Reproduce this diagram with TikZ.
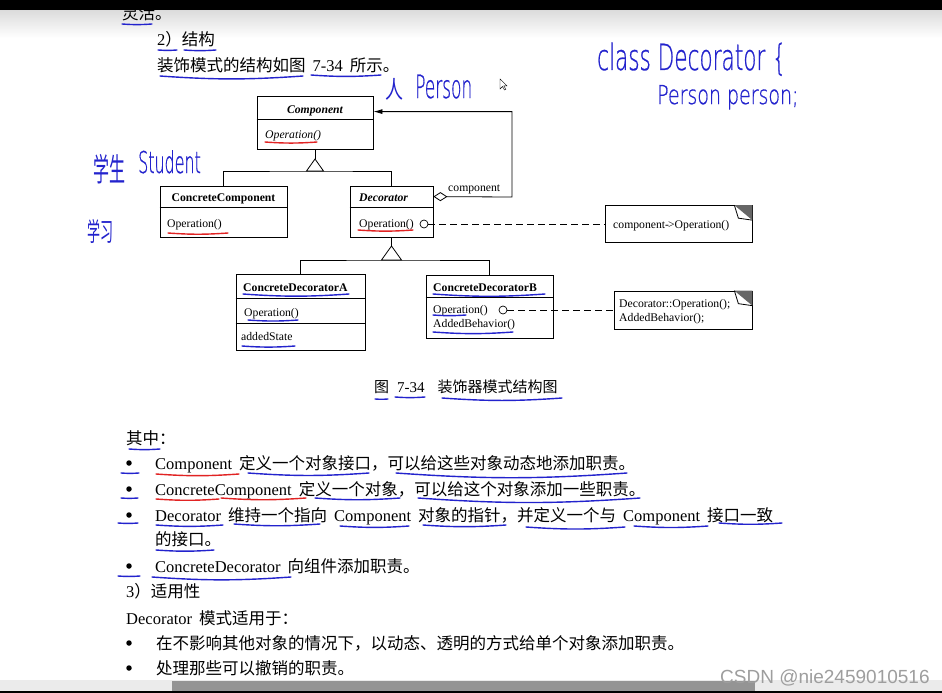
\documentclass[tikz,border=0pt]{standalone}
\usepackage{fontspec}
\usepackage{graphicx}
\setmainfont{Liberation Serif}
\newfontfamily\cjkfont{Noto Sans CJK SC}
\newfontfamily\handfont{DejaVuSans-ExtraLight.ttf}[FakeBold=0.8]
\newfontfamily\markfont{Liberation Sans}
\usetikzlibrary{arrows.meta,calc}
\definecolor{inkblue}{RGB}{35,35,205}
\definecolor{inkred}{RGB}{225,35,35}
\newcommand{\cjk}[1]{{\cjkfont #1}}
\newcommand{\zsp}{\hspace{7pt}}
\newcommand{\hand}[3]{{\fontsize{#1}{#1}\selectfont\scalebox{#2}[1]{#3}}}
\newcommand{\inkul}[4][blueline]{\draw[#1] (#2,#4) to[bend right=4] (#3,#4);}
\tikzset{
  page/.style={anchor=base west, inner sep=0pt, font=\fontsize{16.5}{20}\selectfont},
  uml/.style={anchor=base west, inner sep=0pt, font=\fontsize{11.7}{14}\selectfont},
  umlbox/.style={draw, line width=0.8pt, inner sep=0pt},
  umlline/.style={line width=0.8pt},
  notebox/.style={draw, line width=0.7pt, inner sep=0pt},
  lolly/.style={circle, draw, line width=0.7pt, inner sep=0pt, minimum size=8pt},
  dashlink/.style={line width=0.8pt, dash pattern=on 7pt off 4pt},
  bulletdot/.style={circle, fill=black, inner sep=0pt, minimum size=5.5pt},
  blueline/.style={inkblue, line width=1.4pt, line cap=round},
  redline/.style={inkred, line width=1.4pt, line cap=round},
  ink/.style={inkblue, anchor=base west, inner sep=0pt, font=\handfont},
}
\begin{document}
\begin{tikzpicture}[x=1pt,y=-1pt]
\useasboundingbox (0,0) rectangle (942,693);
\fill[white] (0,0) rectangle (942,693);
\shade[top color=black!14, bottom color=white] (0,10) rectangle (942,38); % shadow
\node[page] (t0) at (122,20) {\cjk{灵活。}};
\fill[black] (0,0) rectangle (942,10); % top bar
\node[page] (t1) at (157,46) {2\cjk{）结构}};
\node[page] (t2) at (157,71) {\cjk{装饰模式的结构如图}\zsp 7-34\zsp\cjk{所示。}};
\draw[fill=white, line width=0.4pt] (500,79) -- (500,89) -- (502.5,86.5) -- (504.5,90) -- (505.8,89.3) -- (503.8,85.8) -- (507,85.8) -- cycle; % cursor

% Component
\node[umlbox, minimum width=116pt, minimum height=53pt] (comp) at (315,122.5) {};
\draw[umlline] ([yshift=-24pt]comp.north west) -- ([yshift=-24pt]comp.north east);
\node[uml, anchor=base] (compname) at (315,113) {\bfseries\itshape Component};
\node[uml] (compop) at (265,138.5) {\itshape Operation()};
% ConcreteComponent
\node[umlbox, minimum width=127pt, minimum height=51pt] (cc) at (223.5,211.5) {};
\draw[umlline] ([yshift=-22pt]cc.north west) -- ([yshift=-22pt]cc.north east);
\node[uml, anchor=base] (ccname) at (223.5,201) {\bfseries ConcreteComponent};
\node[uml] (ccop) at (167,227) {Operation()};
% Decorator
\node[umlbox, minimum width=83pt, minimum height=51pt] (deco) at (391.5,211.5) {};
\draw[umlline] ([yshift=-22pt]deco.north west) -- ([yshift=-22pt]deco.north east);
\node[uml] (deconame) at (359,201) {\bfseries\itshape Decorator};
\node[uml] (decoop) at (359,227) {Operation()};
\node[lolly] (dotA) at (424,224) {};
% ConcreteDecoratorA
\node[umlbox, minimum width=129pt, minimum height=76pt] (cda) at (300.5,312) {};
\draw[umlline] ([yshift=-25pt]cda.north west) -- ([yshift=-25pt]cda.north east);
\draw[umlline] ([yshift=-50pt]cda.north west) -- ([yshift=-50pt]cda.north east);
\node[uml] (cdaname) at (243,291) {\bfseries ConcreteDecoratorA};
\node[uml] (cdaop) at (244,316) {Operation()};
\node[uml] (cdastate) at (241,340) {addedState};
% ConcreteDecoratorB
\node[umlbox, minimum width=127pt, minimum height=63pt] (cdb) at (489.5,306.5) {};
\draw[umlline] ([yshift=-23pt]cdb.north west) -- ([yshift=-23pt]cdb.north east);
\node[uml] (cdbname) at (433,291) {\bfseries ConcreteDecoratorB};
\node[uml] (cdbop) at (433,313) {Operation()};
\node[uml] (cdbadd) at (433,327) {AddedBehavior()};
\node[lolly] (dotB) at (503,310) {};
% notes
\node[notebox, minimum width=147pt, minimum height=37pt] (noteA) at (678.5,224) {};
\fill[black!60] ([xshift=-18pt]noteA.north east) -- (noteA.north east) -- ([yshift=-15pt]noteA.north east) -- cycle;
\draw[umlline] ([xshift=-18pt]noteA.north east) -- ([xshift=-14pt,yshift=-13pt]noteA.north east) -- ([yshift=-15pt]noteA.north east);
\node[uml] (noteAtext) at (613,228) {component-\kern-1pt>Operation()};
\node[notebox, minimum width=138pt, minimum height=38pt] (noteB) at (683,310) {};
\fill[black!60] ([xshift=-18pt]noteB.north east) -- (noteB.north east) -- ([yshift=-15pt]noteB.north east) -- cycle;
\draw[umlline] ([xshift=-18pt]noteB.north east) -- ([xshift=-14pt,yshift=-13pt]noteB.north east) -- ([yshift=-15pt]noteB.north east);
\node[uml] (noteBa) at (619,307) {Decorator::Operation();};
\node[uml] (noteBb) at (619,321) {AddedBehavior();};
\draw[dashlink] (dotA) -- (noteA);
\draw[dashlink] (dotB) -- (noteB);
% inheritance
\coordinate (inhA) at (315,159);
\draw[umlline] (comp.south) -- (inhA);
\draw[umlline] (inhA) -- ++(-8.5,12) -- ++(17,0) -- cycle;
\draw[umlline] (cc.north) |- ($(inhA)+(0,12)$) -| (deco.north);
\coordinate (inhB) at (391.5,246);
\draw[umlline] (deco.south) -- (inhB);
\draw[umlline] (inhB) -- ++(-10,14) -- ++(20,0) -- cycle;
\draw[umlline] (cda.north) |- ($(inhB)+(0,14)$) -| (cdb.north);
% aggregation
\coordinate (aggbend) at (512,197);
\draw[umlline, {Diamond[open,length=14pt,width=9pt]}-{Latex[length=9pt,width=5pt]}] ($(deco.north east)+(0,11)$) -- (aggbend) |- ($(comp.north east)+(0,16)$);
\node[uml] (agglabel) at (448,191) {component};

\node[page, font=\fontsize{15}{18}\selectfont] (cap) at (374,392) {\cjk{图}\hspace{8pt}7-34\hspace{13pt}\cjk{装饰器模式结构图}};

% text below
\node[page] (b0) at (126,444) {\cjk{其中：}};
\node[bulletdot] (dot1) at (129,463) {};
\node[page] (b1) at (155,469) {Component\zsp\cjk{定义一个对象接口，可以给这些对象动态地添加职责。}};
\node[bulletdot] (dot2) at (129,489) {};
\node[page] (b2) at (155,495) {ConcreteComponent\zsp\cjk{定义一个对象，可以给这个对象添加一些职责。}};
\node[bulletdot] (dot3) at (129,515) {};
\node[page] (b3) at (155,521) {Decorator\zsp\cjk{维持一个指向}\zsp Component\zsp\cjk{对象的指针，并定义一个与}\zsp Component\zsp\cjk{接口一致}};
\node[page] (b3b) at (155,545) {\cjk{的接口。}};
\node[bulletdot] (dot4) at (129,566) {};
\node[page] (b4) at (155,572) {ConcreteDecorator\zsp\cjk{向组件添加职责。}};
\node[page] (b5) at (126,597) {3\cjk{）适用性}};
\node[page] (b6) at (126,624) {Decorator\zsp\cjk{模式适用于：}};
\node[bulletdot] (dot5) at (129,643) {};
\node[page] (b7) at (156,649) {\cjk{在不影响其他对象的情况下，以动态、透明的方式给单个对象添加职责。}};
\node[bulletdot] (dot6) at (129,668) {};
\node[page] (b8) at (156,674) {\cjk{处理那些可以撤销的职责。}};

% handwriting
\node[ink] (hw1) at (385,98) {\hand{24}{0.75}{\cjkfont 人}};
\node[ink] (hw2) at (415,98) {\hand{32}{0.53}{Person}};
\node[ink] (hw3) at (597,70) {\hand{36}{0.6}{class Decorator \{}};
\node[ink] (hw4) at (657,104) {\hand{26}{0.73}{Person person;}};
\node[ink] (hw5) at (93,181) {\hand{32}{0.5}{\cjkfont 学生}};
\node[ink] (hw6) at (138,173) {\hand{30}{0.53}{Student}};
\node[ink] (hw7) at (87,241) {\hand{26}{0.5}{\cjkfont 学习}};

% underlines
\inkul{122}{152}{24}
\inkul{158}{177}{50}
\inkul{184}{216}{50}
\inkul{160}{303}{76}
\inkul{311}{381}{75}
\inkul[redline]{265}{317}{142}
\inkul[redline]{168}{228}{233}
\inkul[redline]{358}{413}{230}
\inkul{243}{349}{294}
\inkul{248}{298}{320}
\inkul{242}{295}{346}
\inkul{433}{545}{294}
\inkul{433}{466}{315}
\inkul{433}{513}{332}
\inkul{375}{388}{399}
\inkul{395}{425}{397}
\inkul{442}{562}{398}
\inkul{129}{160}{449}
\inkul{121}{139}{473}
\inkul{121}{138}{498}
\inkul{118}{138}{523}
\inkul{118}{140}{576}
\inkul[redline]{156}{239}{474}
\inkul{248}{369}{473}
\inkul{396}{627}{473}
\inkul[redline]{156}{219}{499}
\inkul[redline]{221}{306}{498}
\inkul{315}{400}{498}
\inkul{418}{640}{498}
\inkul{156}{223}{525}
\inkul{234}{320}{524}
\inkul{340}{409}{526}
\inkul{423}{506}{525}
\inkul{526}{625}{527}
\inkul{634}{708}{526}
\inkul{719}{782}{523}
\inkul{156}{214}{550}
\inkul{152}{291}{577}

% bottom bars
\fill[black!8] (0,680) rectangle (942,691);
\fill[black!42] (172,681) rectangle (755,691); % scrollbar
\fill[black] (0,691) rectangle (942,693);
\node[anchor=base west, inner sep=0pt, text=black!38, font=\markfont\fontsize{19}{20}\selectfont] (csdn) at (720,683) {CSDN @nie2459010516};
\end{tikzpicture}
\end{document}
